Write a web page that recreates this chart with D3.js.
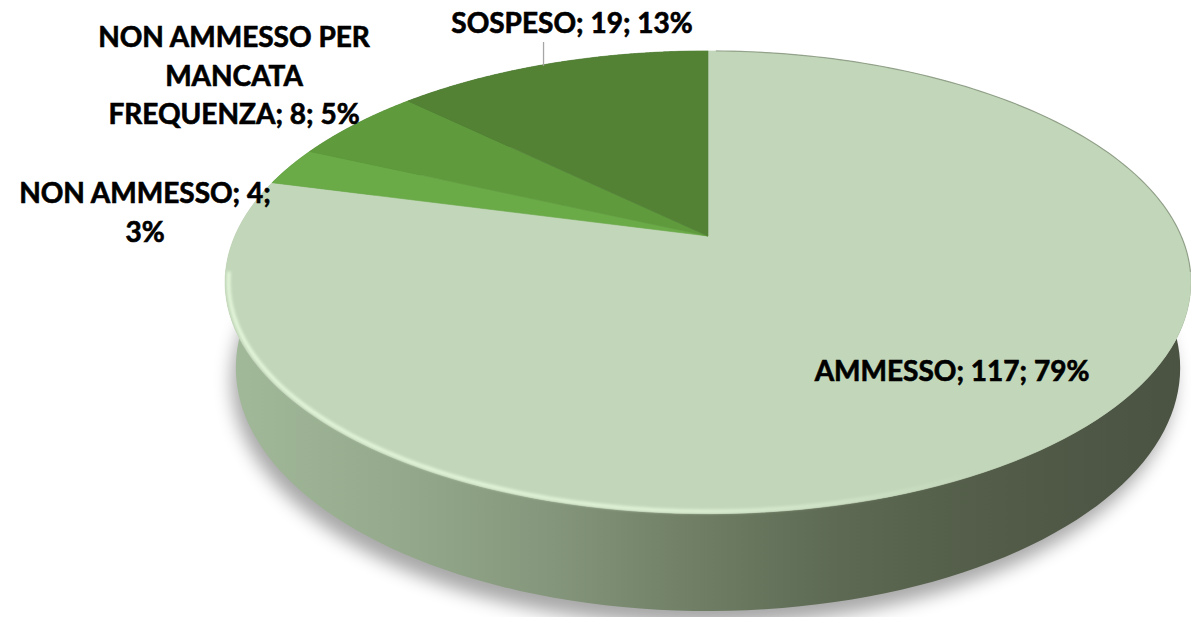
<!DOCTYPE html>
<html>
<head>
<meta charset="utf-8">
<script src="https://cdn.jsdelivr.net/npm/d3@7/dist/d3.min.js"></script>
<style>
  html, body { margin: 0; padding: 0; background: #fff; }
  svg { display: block; }
  text { font-family: Lato, "Open Sans", "Liberation Sans", sans-serif; font-weight: 700; fill: #000; stroke: #000; stroke-width: 0.65px; }
</style>
</head>
<body>
<svg id="chart" width="1191" height="617"></svg>
<script>
// ---- data ----
const categories = ["AMMESSO", "NON AMMESSO", "NON AMMESSO PER MANCATA FREQUENZA", "SOSPESO"];
const values = [117, 4, 8, 19];
const topColors = ["#c2d6b9", "#6aab48", "#5f9b3d", "#538235"];
// label line breaks (text wrapping as in the original)
const labelLines = [
  null,
  ["NON AMMESSO; {v};", "{p}%"],
  ["NON AMMESSO PER", "MANCATA", "FREQUENZA; {v}; {p}%"],
  null
];

// ---- layout ----
const W = 1191, H = 617;
const cx0 = 708, cy0 = 236;      // projected centre of the pie
const tilt = 28 * Math.PI / 180; // elevation angle
const sN = Math.sin(tilt), cN = Math.cos(tilt);
const Dist = 5 * cN;             // camera distance (radius = 1)
const F = 2089;                  // focal length in px
const thick = 0.206;             // pie thickness (radius units)

function proj(t, r, hh) {
  const X = r * Math.sin(t), Y = r * Math.cos(t);
  const yc = Y * sN - hh * cN;
  const zc = Dist + Y * cN + hh * sN;
  return [cx0 + F * X / zc, cy0 - F * yc / zc];
}

const svg = d3.select("#chart");
const defs = svg.append("defs");

const total = d3.sum(values);
const pie = d3.pie().sort(null).value(d => d)(values);

// shadow filter
defs.append("filter").attr("id", "blur").attr("x", "-20%").attr("y", "-20%").attr("width", "140%").attr("height", "140%")
  .append("feGaussianBlur").attr("stdDeviation", 9);
defs.append("filter").attr("id", "blur2")
  .append("feGaussianBlur").attr("stdDeviation", 1.4);

// side gradient
const sideGrad = defs.append("linearGradient").attr("id", "sideGrad")
  .attr("gradientUnits", "userSpaceOnUse").attr("x1", 222).attr("x2", 1190).attr("y1", 0).attr("y2", 0);
[[0, "#a2b99a"], [0.18, "#95aa8c"], [0.34, "#84967b"], [0.49, "#6f7e65"], [0.64, "#5d6953"], [0.8, "#525c48"], [1, "#4a5242"]]
  .forEach(([o, c]) => sideGrad.append("stop").attr("offset", o).attr("stop-color", c));

const hlGrad = defs.append("linearGradient").attr("id", "hlGrad")
  .attr("gradientUnits", "userSpaceOnUse").attr("x1", 222).attr("x2", 1190).attr("y1", 0).attr("y2", 0);
[[0, 0.95], [0.45, 0.85], [0.62, 0.45], [0.78, 0.0], [1, 0]]
  .forEach(([o, a]) => hlGrad.append("stop").attr("offset", o).attr("stop-color", "#e8fbdf").attr("stop-opacity", a));

const line = d3.line();
function arcPts(a0, a1, r, hh, n) {
  const pts = [];
  for (let i = 0; i <= n; i++) pts.push(proj(a0 + (a1 - a0) * i / n, r, hh));
  return pts;
}

// shadow (blurred bottom outline)
const shadowPts = arcPts(0, 2 * Math.PI, 1.0, thick + 0.02, 200).map(p => [p[0] - 5, p[1] + 5]);
svg.append("path").attr("d", line(shadowPts) + "Z")
  .attr("fill", "#000").attr("opacity", 0.34).attr("filter", "url(#blur)");

// outer wall of every slice (back parts are hidden by the top faces)
pie.forEach((d, i) => {
  const top = arcPts(d.startAngle, d.endAngle, 1, 0, 160);
  const bot = arcPts(d.startAngle, d.endAngle, 1, thick, 160).reverse();
  svg.append("path").attr("d", line(top.concat(bot)) + "Z")
    .attr("fill", i === 0 ? "url(#sideGrad)" : d3.color(topColors[i]).darker(1))
    .attr("stroke", "none");
});

// top faces
pie.forEach((d, i) => {
  const pts = [proj(0, 0, 0)].concat(arcPts(d.startAngle, d.endAngle, 1, 0, 160));
  svg.append("path").attr("d", line(pts) + "Z")
    .attr("fill", topColors[i]).attr("stroke", topColors[i]).attr("stroke-width", 0.6);
});

// rim highlight on front edge of the top face
const hl = arcPts(Math.PI * 1.45, Math.PI * 0.6, 0.993, 0, 160);
svg.append("path").attr("d", line(hl)).attr("fill", "none")
  .attr("stroke", "url(#hlGrad)").attr("stroke-width", 3.5).attr("filter", "url(#blur2)");
// soft dark edge on back-right rim
const bk = arcPts(0.02, Math.PI * 0.55, 1.0, 0, 80);
svg.append("path").attr("d", line(bk)).attr("fill", "none")
  .attr("stroke", "#6f7d68").attr("stroke-opacity", 0.55).attr("stroke-width", 1.2);

// ---- labels ----
const fs = 28;
const pct = v => Math.round(v / total * 100);
const labelPos = [
  { x: 952, y: 381 },
  { x: 145, y: 203 },
  { x: 234, y: 47 },
  { x: 572, y: 33 }
];
const lineGap = 38.5;
pie.forEach((d, i) => {
  const v = values[i], p = pct(v);
  const lines = labelLines[i]
    ? labelLines[i].map(s => s.replace("{v}", v).replace("{p}", p))
    : [`${categories[i]}; ${v}; ${p}%`];
  const t = svg.append("text").attr("text-anchor", "middle").attr("font-size", fs);
  lines.forEach((s, k) => {
    t.append("tspan").attr("x", labelPos[i].x).attr("y", labelPos[i].y + k * lineGap).text(s);
  });
});

// leader line for SOSPESO
const sosp = pie[3];
const midA = sosp.startAngle + (sosp.endAngle - sosp.startAngle) * 0.475;
const edge = proj(midA, 1, 0);
svg.append("line").attr("x1", edge[0]).attr("x2", edge[0])
  .attr("y1", 42).attr("y2", edge[1] + 1)
  .attr("stroke", "#a6a6a6").attr("stroke-width", 1.3);
</script>
</body>
</html>
